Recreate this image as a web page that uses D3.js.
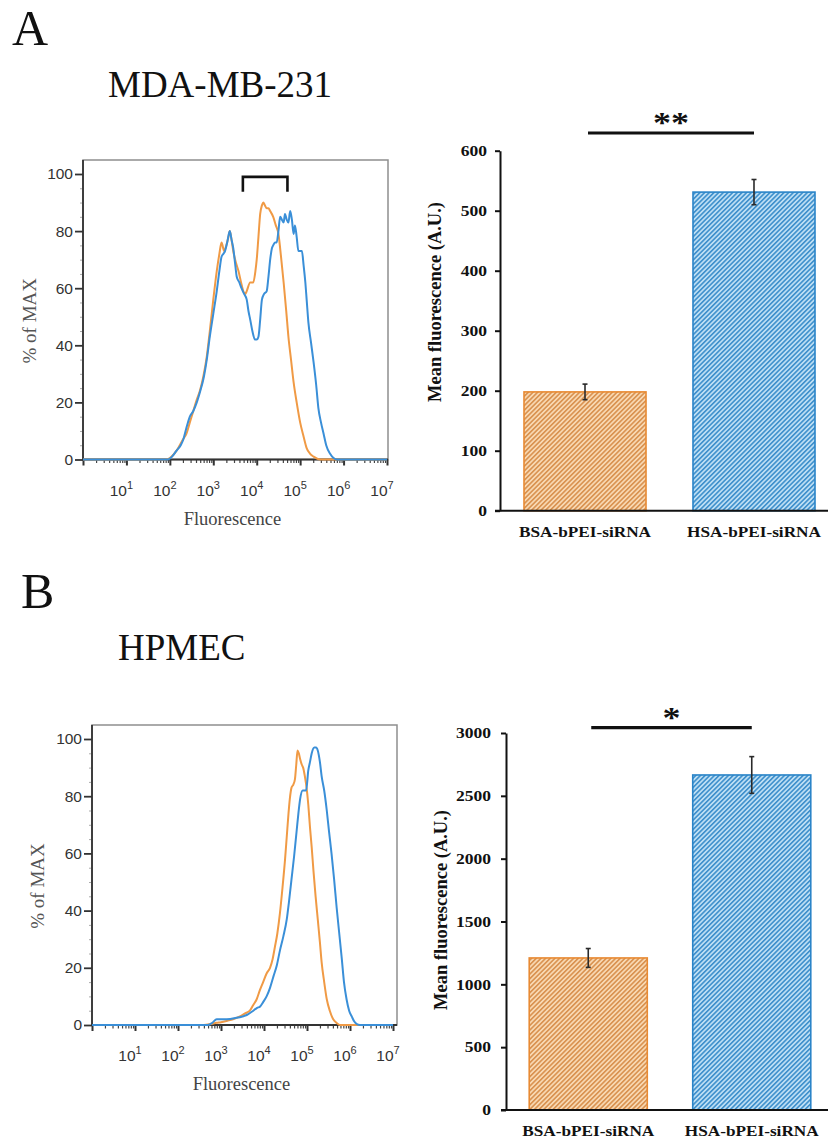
<!DOCTYPE html>
<html>
<head>
<meta charset="utf-8">
<script src="https://cdn.jsdelivr.net/npm/d3@7"></script>
<style>
  html, body { margin: 0; padding: 0; background: #fff; }
  svg { display: block; }
</style>
</head>
<body>
<svg id="fig" width="828" height="1142"></svg>
<script>
// ---- Flow cytometry histograms: [log10(fluorescence), % of MAX] ----
const mdaBSA = [[0,0],[1.9,0],[2.0,0.5],[2.15,3],[2.3,7],[2.38,9],[2.46,13],[2.54,17],[2.62,21],[2.69,24],[2.77,29],[2.85,36],[2.92,45],[3.0,56],[3.08,66],[3.14,72],[3.19,76],[3.25,73],[3.3,75],[3.35,78],[3.38,80],[3.42,77],[3.46,73],[3.52,69],[3.58,66],[3.64,62],[3.69,59],[3.74,58],[3.77,59],[3.85,62],[3.92,62],[3.97,66],[4.0,70],[4.04,78],[4.08,86],[4.12,89],[4.15,90],[4.19,89],[4.23,88],[4.27,88],[4.31,87],[4.38,85],[4.44,82],[4.5,79],[4.56,71],[4.62,62],[4.68,52],[4.73,43],[4.79,35],[4.85,27],[4.92,20],[5.0,13],[5.08,8],[5.15,4],[5.23,2],[5.31,1],[5.46,0],[7,0]];
const mdaHSA = [[0,0],[1.95,0],[2.05,1],[2.15,3],[2.25,5],[2.31,7],[2.38,11],[2.46,15],[2.54,17],[2.62,20],[2.7,24],[2.77,28],[2.85,35],[2.92,43],[3.0,51],[3.08,59],[3.14,66],[3.19,71],[3.23,72],[3.27,73],[3.32,76],[3.38,80],[3.42,77],[3.46,74],[3.5,69],[3.54,64],[3.6,62],[3.65,60],[3.71,58],[3.77,56],[3.81,52],[3.85,49],[3.9,45],[3.96,42],[4.0,42],[4.04,43],[4.08,49],[4.12,56],[4.17,58],[4.23,59],[4.27,64],[4.31,70],[4.35,74],[4.38,75],[4.42,76],[4.46,76],[4.5,80],[4.54,85],[4.58,84],[4.62,83],[4.65,86],[4.69,84],[4.73,83],[4.77,87],[4.81,84],[4.85,79],[4.88,82],[4.92,78],[4.96,73],[5.0,73],[5.04,73],[5.08,68],[5.12,62],[5.15,56],[5.19,48],[5.25,41],[5.31,34],[5.37,26],[5.42,18],[5.48,13],[5.54,9],[5.6,5],[5.69,2],[5.77,0.5],[5.85,0],[7,0]];
const hpmecBSA = [[0,0],[2.6,0],[2.75,0.3],[2.9,0.8],[3.0,1],[3.15,1.5],[3.28,2],[3.44,3],[3.55,4],[3.67,5],[3.75,7],[3.83,9],[3.9,12],[3.98,15],[4.06,18],[4.14,20],[4.2,23],[4.25,27],[4.31,32],[4.37,39],[4.43,48],[4.49,58],[4.53,66],[4.57,74],[4.6,79],[4.64,83],[4.68,84],[4.72,86],[4.75,91],[4.78,96],[4.81,95],[4.84,93],[4.88,91],[4.91,90],[4.95,87],[4.99,83],[5.03,77],[5.07,69],[5.11,62],[5.15,54],[5.2,45],[5.25,37],[5.3,29],[5.34,22],[5.4,15],[5.46,9],[5.53,5],[5.61,2],[5.69,0.7],[5.77,0],[7,0]];
const hpmecHSA = [[0,0],[2.7,0],[2.8,0.8],[2.9,2],[3.13,2],[3.36,2.5],[3.5,3],[3.6,3.5],[3.75,5],[3.84,6],[3.91,6.5],[3.98,8],[4.06,10],[4.14,13],[4.22,17],[4.3,21],[4.37,26],[4.45,31],[4.53,37],[4.58,43],[4.64,51],[4.7,59],[4.76,68],[4.8,74],[4.84,79],[4.9,82],[4.98,82],[5.03,89],[5.07,92],[5.11,95],[5.17,97],[5.21,97],[5.25,96],[5.3,92],[5.34,87],[5.4,82],[5.46,75],[5.51,68],[5.57,60],[5.63,51],[5.69,41],[5.75,32],[5.81,23],[5.86,15],[5.92,9],[5.98,5],[6.04,3],[6.1,1.2],[6.16,0.3],[6.23,0],[7,0]];

const decadeExponents = [0, 1, 2, 3, 4, 5, 6, 7];   // 10^0 .. 10^7
const pctTicks = [0, 20, 40, 60, 80, 100];
const gateRange = [4800, 51000];                    // bracket over the shifted population

// ---- Mean fluorescence bar charts ----
const groups = ["BSA-bPEI-siRNA", "HSA-bPEI-siRNA"];
const mdaMeans = [198, 531];
const mdaErrors = [13, 21];
const mdaTicks = [0, 100, 200, 300, 400, 500, 600];
const mdaSignif = "**";
const hpmecMeans = [1210, 2666];
const hpmecErrors = [75, 146];
const hpmecTicks = [0, 500, 1000, 1500, 2000, 2500, 3000];
const hpmecSignif = "*";

const SERIF = "'Liberation Serif','Times New Roman',Times,serif";
const SANS = "'Liberation Sans',Arial,Helvetica,sans-serif";
const ORANGE = "#f09a45";
const BLUE = "#3a8fd8";

const svg = d3.select("#fig");

// hatch patterns for the bars
const defs = svg.append("defs");
function hatch(id, bg, stripe) {
  const p = defs.append("pattern").attr("id", id)
    .attr("patternUnits", "userSpaceOnUse")
    .attr("width", 3.3).attr("height", 3.3)
    .attr("patternTransform", "rotate(45)");
  p.append("rect").attr("width", 3.3).attr("height", 3.3).attr("fill", bg);
  p.append("rect").attr("width", 1.6).attr("height", 3.3).attr("fill", stripe);
}
hatch("hatchOrange", "#f8d8b2", "#d99250");
hatch("hatchBlue", "#bcdef4", "#3f90cc");

// stretch text horizontally by a factor (the bar-chart lettering is wide)
function widen(sel, k) {
  sel.each(function () {
    const w = this.getComputedTextLength();
    d3.select(this).attr("textLength", w * k).attr("lengthAdjust", "spacingAndGlyphs");
  });
}

// ---- panel letters and cell-line titles ----
svg.append("text").attr("x", 12).attr("y", 45).text("A")
  .attr("font-family", SERIF).attr("font-size", 50).attr("fill", "#111");
svg.append("text").attr("x", 108).attr("y", 97).text("MDA-MB-231")
  .attr("font-family", SERIF).attr("font-size", 37).attr("fill", "#111");
svg.append("text").attr("x", 21).attr("y", 608).text("B")
  .attr("font-family", SERIF).attr("font-size", 50).attr("fill", "#111");
svg.append("text").attr("x", 118).attr("y", 660).text("HPMEC")
  .attr("font-family", SERIF).attr("font-size", 37).attr("fill", "#111");

// ---- histogram panel ----
function histogram(cfg, series, bracket) {
  const g = svg.append("g");
  const x = d3.scaleLog().domain([1, 1e7]).range([cfg.left, cfg.right]);
  const y = d3.scaleLinear().domain([0, 100]).range([cfg.base, cfg.top100]);

  // gray frame
  g.append("rect")
    .attr("x", cfg.left).attr("y", cfg.frameTop)
    .attr("width", cfg.frameRight - cfg.left).attr("height", cfg.base - cfg.frameTop)
    .attr("fill", "none").attr("stroke", "#8e8e8e").attr("stroke-width", 1.5);

  // minor y ticks every 5 %
  const yMinor = d3.range(0, 101, 5).filter(v => v % 20 !== 0);
  g.append("g").attr("transform", `translate(${cfg.left},0)`)
    .call(d3.axisLeft(y).tickValues(yMinor).tickSize(3).tickFormat(""))
    .call(a => a.select(".domain").remove())
    .call(a => a.selectAll("line").attr("stroke", "#aaa").attr("stroke-width", 1));

  // major y ticks
  g.append("g").attr("transform", `translate(${cfg.left},0)`)
    .call(d3.axisLeft(y).tickValues(pctTicks).tickSize(8).tickPadding(2).tickSizeOuter(0))
    .call(a => a.select(".domain").attr("stroke", "#333").attr("stroke-width", 1.8)
      .attr("d", `M0,${cfg.frameTop}V${cfg.base}`))
    .call(a => a.selectAll("line").attr("stroke", "#333").attr("stroke-width", 1.8))
    .call(a => a.selectAll("text").attr("font-family", SANS).attr("font-size", 15.5)
      .attr("fill", "#333").attr("dy", "0.32em"));

  // minor x ticks (2..9 x 10^k)
  const minor = [];
  decadeExponents.slice(0, -1).forEach(e => { for (let m = 2; m <= 9; m++) minor.push(m * Math.pow(10, e)); });
  g.append("g").attr("transform", `translate(0,${cfg.base})`)
    .call(d3.axisBottom(x).tickValues(minor).tickSize(3.5).tickFormat(""))
    .call(a => a.select(".domain").remove())
    .call(a => a.selectAll("line").attr("stroke", "#444").attr("stroke-width", 1.2));

  // major x ticks and axis line
  const decades = decadeExponents.map(e => Math.pow(10, e));
  g.append("g").attr("transform", `translate(0,${cfg.base})`)
    .call(d3.axisBottom(x).tickValues(decades).tickSize(6).tickSizeOuter(0).tickFormat(""))
    .call(a => a.select(".domain").attr("stroke", "#333").attr("stroke-width", 1.8)
      .attr("d", `M${cfg.left},0H${cfg.frameRight}`))
    .call(a => a.selectAll("line").attr("stroke", "#333").attr("stroke-width", 2));

  // decade labels 10^n
  const lab = g.append("g").selectAll("text")
    .data(decadeExponents.filter(e => e > 0)).join("text")
    .attr("x", e => x(Math.pow(10, e)) - 5)
    .attr("y", cfg.base + 36)
    .attr("text-anchor", "middle")
    .attr("font-family", SANS).attr("fill", "#333");
  lab.append("tspan").attr("font-size", 15.5).text("10");
  lab.append("tspan").attr("font-size", 11).attr("dy", -7).text(e => e);

  // axis titles
  g.append("text")
    .attr("x", cfg.left + (cfg.frameRight - cfg.left) * 0.49).attr("y", cfg.base + 65)
    .attr("text-anchor", "middle")
    .attr("font-family", SERIF).attr("font-size", 18.5).attr("fill", "#444")
    .text("Fluorescence");
  g.append("text")
    .attr("transform", `translate(${cfg.yLabelX},${(cfg.frameTop + cfg.base) / 2 + 11}) rotate(-90)`)
    .attr("text-anchor", "middle")
    .attr("font-family", SERIF).attr("font-size", 19).attr("fill", "#555")
    .text("% of MAX");

  // curves
  const line = d3.line()
    .x(d => x(Math.pow(10, d[0])))
    .y(d => y(d[1]))
    .curve(d3.curveMonotoneX);
  series.forEach(s => {
    g.append("path").datum(s.data)
      .attr("d", line)
      .attr("fill", "none").attr("stroke", s.color)
      .attr("stroke-width", 2).attr("stroke-linejoin", "round");
  });

  // gate bracket
  if (bracket) {
    const bx0 = x(bracket[0]), bx1 = x(bracket[1]);
    const by0 = y(99), by1 = y(93.8);
    g.append("path")
      .attr("d", `M${bx0},${by1}V${by0}H${bx1}V${by1}`)
      .attr("fill", "none").attr("stroke", "#111").attr("stroke-width", 2.6);
  }
}

histogram(
  { left: 83, right: 387, frameRight: 388, frameTop: 160, base: 459.5, top100: 174, yLabelX: 36 },
  [{ data: mdaBSA, color: ORANGE }, { data: mdaHSA, color: BLUE }],
  gateRange
);
histogram(
  { left: 92, right: 393, frameRight: 397, frameTop: 725, base: 1025, top100: 739, yLabelX: 44 },
  [{ data: hpmecBSA, color: ORANGE }, { data: hpmecHSA, color: BLUE }],
  null
);

// ---- bar chart panel ----
function barChart(cfg, means, errors, ticks, signif) {
  const g = svg.append("g");
  const x = d3.scaleBand().domain(groups)
    .range([cfg.axisX, cfg.xEnd]).paddingInner(0.278).paddingOuter(0.142);
  const y = d3.scaleLinear().domain([0, d3.max(ticks)]).range([cfg.base, cfg.top]);
  const rows = groups.map((k, i) => ({ k, v: means[i], e: errors[i], i }));

  // bars
  g.selectAll("rect.bar").data(rows).join("rect").attr("class", "bar")
    .attr("x", d => x(d.k)).attr("width", x.bandwidth())
    .attr("y", d => y(d.v)).attr("height", d => y(0) - y(d.v))
    .attr("fill", d => d.i === 0 ? "url(#hatchOrange)" : "url(#hatchBlue)")
    .attr("stroke", d => d.i === 0 ? "#e88a33" : "#2a84c8")
    .attr("stroke-width", 1.6);

  // error bars
  const cx = d => x(d.k) + x.bandwidth() / 2;
  const eb = g.selectAll("g.err").data(rows).join("g").attr("class", "err")
    .attr("stroke", "#2a2a2a").attr("stroke-width", 1.6);
  eb.append("line").attr("x1", cx).attr("x2", cx)
    .attr("y1", d => y(d.v + d.e)).attr("y2", d => y(d.v - d.e));
  eb.append("line").attr("x1", d => cx(d) - 2.5).attr("x2", d => cx(d) + 2.5)
    .attr("y1", d => y(d.v + d.e)).attr("y2", d => y(d.v + d.e));
  eb.append("line").attr("x1", d => cx(d) - 2.5).attr("x2", d => cx(d) + 2.5)
    .attr("y1", d => y(d.v - d.e)).attr("y2", d => y(d.v - d.e));

  // y axis
  const ya = g.append("g").attr("transform", `translate(${cfg.axisX},0)`)
    .call(d3.axisLeft(y).tickValues(ticks).tickFormat(d3.format("d"))
      .tickSize(5).tickSizeOuter(0).tickPadding(cfg.pad))
    .call(a => a.select(".domain").attr("stroke", "#111").attr("stroke-width", 2))
    .call(a => a.selectAll("line").attr("stroke", "#111").attr("stroke-width", 2));
  ya.selectAll("text").attr("font-family", SERIF).attr("font-size", 14)
    .attr("font-weight", "bold").attr("fill", "#111").attr("dy", "0.34em");
  widen(ya.selectAll("text"), 1.25);

  // x axis line
  g.append("line").attr("x1", cfg.axisX - 5).attr("x2", 828)
    .attr("y1", cfg.base).attr("y2", cfg.base)
    .attr("stroke", "#111").attr("stroke-width", 2);

  // category labels
  const cl = g.selectAll("text.cat").data(rows).join("text").attr("class", "cat")
    .attr("x", cx).attr("y", cfg.base + 26)
    .attr("text-anchor", "middle")
    .attr("font-family", SERIF).attr("font-size", 14).attr("font-weight", "bold")
    .attr("fill", "#111").text(d => d.k);
  widen(cl, 1.23);

  // y title
  g.append("text")
    .attr("transform", `translate(${cfg.axisX - 59},${cfg.labelY}) rotate(-90)`)
    .attr("text-anchor", "middle")
    .attr("font-family", SERIF).attr("font-size", 18.5).attr("font-weight", "bold")
    .attr("fill", "#111").text("Mean fluorescence (A.U.)");

  // significance line and stars
  const c0 = cx(rows[0]) + 3, c1 = cx(rows[1]);
  g.append("line").attr("x1", c0).attr("x2", c1)
    .attr("y1", cfg.sigY).attr("y2", cfg.sigY)
    .attr("stroke", "#111").attr("stroke-width", 3.2);
  const st = g.append("text")
    .attr("x", (c0 + c1) / 2).attr("y", cfg.sigY - 1)
    .attr("text-anchor", "middle")
    .attr("font-family", SERIF).attr("font-size", 30).attr("font-weight", "bold")
    .attr("fill", "#111").text(signif);
  widen(st, 1.2);
}

barChart({ axisX: 500, xEnd: 839, base: 510.7, top: 150.7, pad: 8, sigY: 133, labelY: 302 },
  mdaMeans, mdaErrors, mdaTicks, mdaSignif);
barChart({ axisX: 506, xEnd: 834, base: 1110, top: 733, pad: 10, sigY: 727.7, labelY: 910 },
  hpmecMeans, hpmecErrors, hpmecTicks, hpmecSignif);
</script>
</body>
</html>
